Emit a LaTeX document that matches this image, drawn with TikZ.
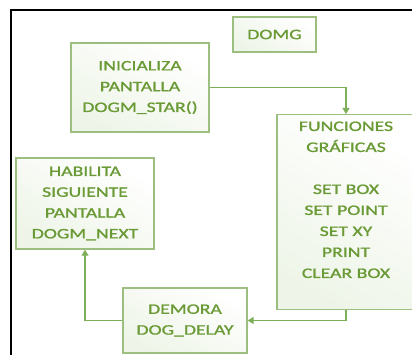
\documentclass[tikz,border=0pt]{standalone}
\usepackage{fontspec}
\setmainfont{Carlito}[FakeStretch=1.36, FakeBold=1.2]
\usetikzlibrary{arrows.meta}
\definecolor{boxline}{HTML}{9CBF80}
\definecolor{linkline}{HTML}{7DAF58}
\definecolor{labeltext}{HTML}{6A9A35}
\definecolor{boxfill}{HTML}{EEF5E8}
\tikzset{
  stepbox/.style={draw=boxline, line width=1.3pt, rectangle, inner sep=0pt,
    top color=white, bottom color=boxfill, shading angle=-30,
    text=labeltext, align=center,
    font=\fontsize{14.5}{20.8}\selectfont},
  link/.style={draw=linkline, line width=1.2pt,
    -{Triangle[width=7pt,length=6pt]}},
  frame/.style={draw=black, line width=1.6pt}
}
\begin{document}
\begin{tikzpicture}[x=1pt,y=-1pt]
\useasboundingbox (0,0) rectangle (412,355);
% outer frame (top and left edges)
\draw[frame] (412,10) -- (11,10) -- (11,355);
% blocks
\node[stepbox, minimum width=83pt, minimum height=35pt] (domg) at (274.5,34.5) {DOMG};
\node[stepbox, minimum width=138pt, minimum height=89pt] (ini) at (140,87.5)
  {INICIALIZA\\PANTALLA\\DOGM\_STAR()};
\node[stepbox, minimum width=138pt, minimum height=195pt, anchor=north] (fun) at (346,114) {};
\node[text=labeltext, align=center, font=\fontsize{14.5}{21}\selectfont, anchor=north]
  (funtxt) at (346,118)
  {FUNCIONES\\GRÁFICAS\\[21pt]SET BOX\\SET POINT\\SET XY\\PRINT\\CLEAR BOX};
\node[stepbox, minimum width=138pt, minimum height=91pt] (hab) at (85,203.5)
  {HABILITA\\SIGUIENTE\\PANTALLA\\DOGM\_NEXT};
\node[stepbox, minimum width=124pt, minimum height=65pt] (dem) at (185,320.5)
  {DEMORA\\DOG\_DELAY};
% flow
\draw[link] (ini.east) -| (fun.north);
\draw[link] (fun.south) |- (dem.east);
\draw[link] (dem.west) -| (hab.south);
\end{tikzpicture}
\end{document}
